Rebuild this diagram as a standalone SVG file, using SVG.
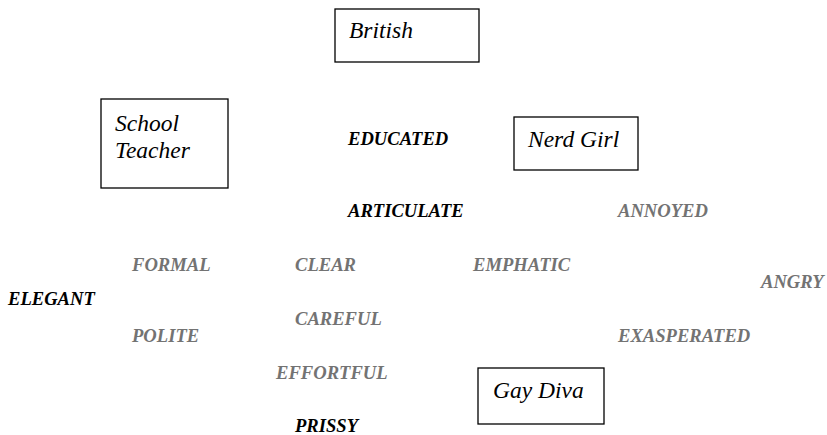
<svg xmlns="http://www.w3.org/2000/svg" width="827" height="435" viewBox="0 0 827 435">
<style>
.box{fill:#fff;stroke:#000;stroke-width:1.3}
.lbl{font-family:'Liberation Serif','Tinos','DejaVu Serif',serif;font-style:italic;font-size:23.5px;fill:#000}
.w{font-family:'Liberation Serif','Tinos','DejaVu Serif',serif;font-style:italic;font-weight:bold;font-size:18.6px}
.k{fill:#000}
.g{fill:#737373}
</style>
<rect width="827" height="435" fill="#fff"/>
<g id="british"><rect class="box" x="335" y="9" width="144" height="53"/><text class="lbl" x="349" y="38">British</text></g>
<g id="school-teacher"><rect class="box" x="101" y="99" width="127" height="89"/><text class="lbl" x="115" y="131">School</text><text class="lbl" x="115" y="158">Teacher</text></g>
<g id="nerd-girl"><rect class="box" x="514" y="117" width="124" height="53"/><text class="lbl" x="528" y="147">Nerd Girl</text></g>
<g id="gay-diva"><rect class="box" x="478" y="368" width="126" height="56"/><text class="lbl" x="493" y="398">Gay Diva</text></g>
<g id="connectors"></g>
<g id="words">
<text class="w k" x="348" y="145">EDUCATED</text>
<text class="w k" x="348" y="217">ARTICULATE</text>
<text class="w g" x="618" y="217">ANNOYED</text>
<text class="w g" x="132" y="271">FORMAL</text>
<text class="w g" x="295" y="271">CLEAR</text>
<text class="w g" x="473" y="271">EMPHATIC</text>
<text class="w g" x="761" y="288">ANGRY</text>
<text class="w k" x="8" y="305">ELEGANT</text>
<text class="w g" x="295" y="325">CAREFUL</text>
<text class="w g" x="132" y="342">POLITE</text>
<text class="w g" x="618" y="342">EXASPERATED</text>
<text class="w g" x="276" y="379">EFFORTFUL</text>
<text class="w k" x="295" y="432">PRISSY</text>
</g>
</svg>
